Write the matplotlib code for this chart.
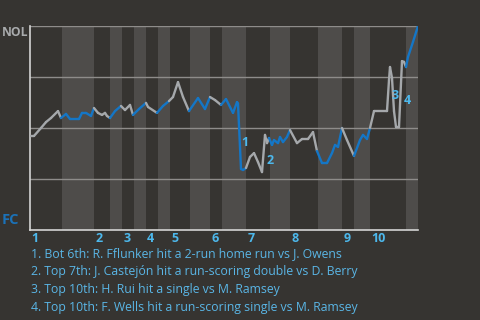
import matplotlib
matplotlib.use("Agg")
import matplotlib.pyplot as plt
from matplotlib.collections import LineCollection
import matplotlib.transforms as mtransforms
import numpy as np

plt.rcParams['font.family'] = ['Open Sans', 'DejaVu Sans']

# win probability for NOL, by play index
play_x = [0, 1, 2.75, 4, 5.25, 7, 7.75, 9, 10, 12.25, 13, 14, 15.25, 16, 17, 18, 18.75, 19.25, 20,
          21.25, 22.75, 23.75, 25, 25.75, 27.25, 29, 29.5, 31.75, 33.25, 34.75, 35.75, 37, 38.25,
          39.75, 42, 43.75, 45, 46.25, 47.75, 49, 50.75, 51.75, 52, 52.75, 53.25, 54, 55, 56, 57,
          58, 58.75, 59.25, 59.75, 60.5, 61, 62, 62.5, 63.25, 64.25, 65, 66.75, 68, 69.5, 70.75,
          71.75, 73, 74.25, 75.5, 76.25, 77, 78, 79.25, 81, 82.5, 83.25, 84.25, 85, 86, 89.25,
          89.75, 90, 90.5, 91, 91.5, 92.25, 93, 93.5, 94, 94.5, 95.75, 97]
nol_wp = [0.461, 0.461, 0.500, 0.529, 0.549, 0.583, 0.549, 0.569, 0.544, 0.544, 0.574, 0.574,
          0.559, 0.598, 0.574, 0.564, 0.574, 0.559, 0.549, 0.583, 0.608, 0.588, 0.613, 0.564,
          0.593, 0.623, 0.603, 0.574, 0.608, 0.632, 0.652, 0.725, 0.652, 0.583, 0.647, 0.593,
          0.652, 0.637, 0.613, 0.642, 0.574, 0.627, 0.620, 0.299, 0.294, 0.304, 0.358, 0.377,
          0.333, 0.284, 0.466, 0.426, 0.451, 0.417, 0.441, 0.426, 0.456, 0.431, 0.456, 0.490,
          0.426, 0.446, 0.446, 0.480, 0.387, 0.328, 0.328, 0.377, 0.417, 0.407, 0.500, 0.441,
          0.363, 0.441, 0.466, 0.446, 0.500, 0.583, 0.583, 0.735, 0.799, 0.745, 0.583, 0.505,
          0.505, 0.828, 0.824, 0.799, 0.848, 0.922, 1.0]

# first play of each half inning
half_starts = [0, 8, 16, 20, 23, 26, 29, 32, 35, 40, 45, 48, 54, 60, 65, 72, 78, 81, 85, 94]
last_play = 97
inning_labels = ['1', '2', '3', '4', '5', '6', '7', '8', '9', '10']

# key plays: (x of play, wp before, wp after)
key_x = [52.5, 58.75, 89.9, 93.1]
key_before = [0.627, 0.284, 0.583, 0.505]
key_after = [0.299, 0.466, 0.799, 0.828]
key_notes = [
    "1. Bot 6th: R. Fflunker hit a 2-run home run vs J. Owens",
    "2. Top 7th: J. Castejón hit a run-scoring double vs D. Berry",
    "3. Top 10th: H. Rui hit a single vs M. Ramsey",
    "4. Top 10th: F. Wells hit a run-scoring single vs M. Ramsey",
]

bg = '#363431'
band = '#4e4c4a'
blue = '#1476c6'
grey = '#a5a8ab'
light_blue = '#4db8ec'

fig = plt.figure(figsize=(4.8, 3.2), dpi=100, facecolor=bg)
ax = fig.add_axes([30 / 480, 90 / 320, 388 / 480, 204 / 320])
ax.set_facecolor(bg)
ax.set_xlim(0, last_play)
ax.set_ylim(0, 1)

bounds = half_starts + [last_play]
for i in range(len(half_starts)):
    if i % 2 == 1:
        ax.axvspan(bounds[i], bounds[i + 1], color=band, lw=0, zorder=0)

for g in [0.25, 0.5, 0.75, 1.0]:
    ax.axhline(g, color='#8e8c8a', lw=1.0, zorder=1)

# colour each segment by the half inning it falls in
pts = np.column_stack([play_x, nol_wp])
segs = np.stack([pts[:-1], pts[1:]], axis=1)
mids = (pts[:-1, 0] + pts[1:, 0]) / 2
half_idx = np.searchsorted(half_starts, mids, side='right') - 1
cols = [blue if h % 2 == 1 else grey for h in half_idx]
lc = LineCollection(segs, colors=cols, linewidths=1.7, zorder=3, capstyle='round', joinstyle='round')
ax.add_collection(lc)

for k, (kx, b, a) in enumerate(zip(key_x, key_before, key_after)):
    ax.text(kx + 0.4, (b + a) / 2, str(k + 1), color=light_blue, fontsize=9, fontweight='bold',
            ha='left', va='top', zorder=4)

for s in ['top', 'right']:
    ax.spines[s].set_visible(False)
for s in ['left', 'bottom']:
    ax.spines[s].set_color('#d4d4d4')
    ax.spines[s].set_linewidth(1.2)
ax.set_xticks([])
ax.set_yticks([])

trans = mtransforms.blended_transform_factory(ax.transData, fig.transFigure)
tops = half_starts[::2]
for x0, lab in zip(tops, inning_labels):
    ax.text(x0 + 0.3, 1 - 238 / 320, lab, transform=trans, color=light_blue, fontsize=9,
            fontweight='bold', ha='left', va='center')

fig.text(2 / 480, 1 - 32 / 320, 'NOL', color='#a9abad', fontsize=8.7, fontweight='bold',
         ha='left', va='center')
fig.text(2 / 480, 1 - 220 / 320, 'FC', color='#1b72b8', fontsize=10.5, fontweight='bold',
         ha='left', va='center')

for i, note in enumerate(key_notes):
    fig.text(31 / 480, 1 - (254 + 18 * i) / 320, note, color='#5ab6e6', fontsize=8.8,
             ha='left', va='center')

fig.savefig('out.png', dpi=100, facecolor=bg)
